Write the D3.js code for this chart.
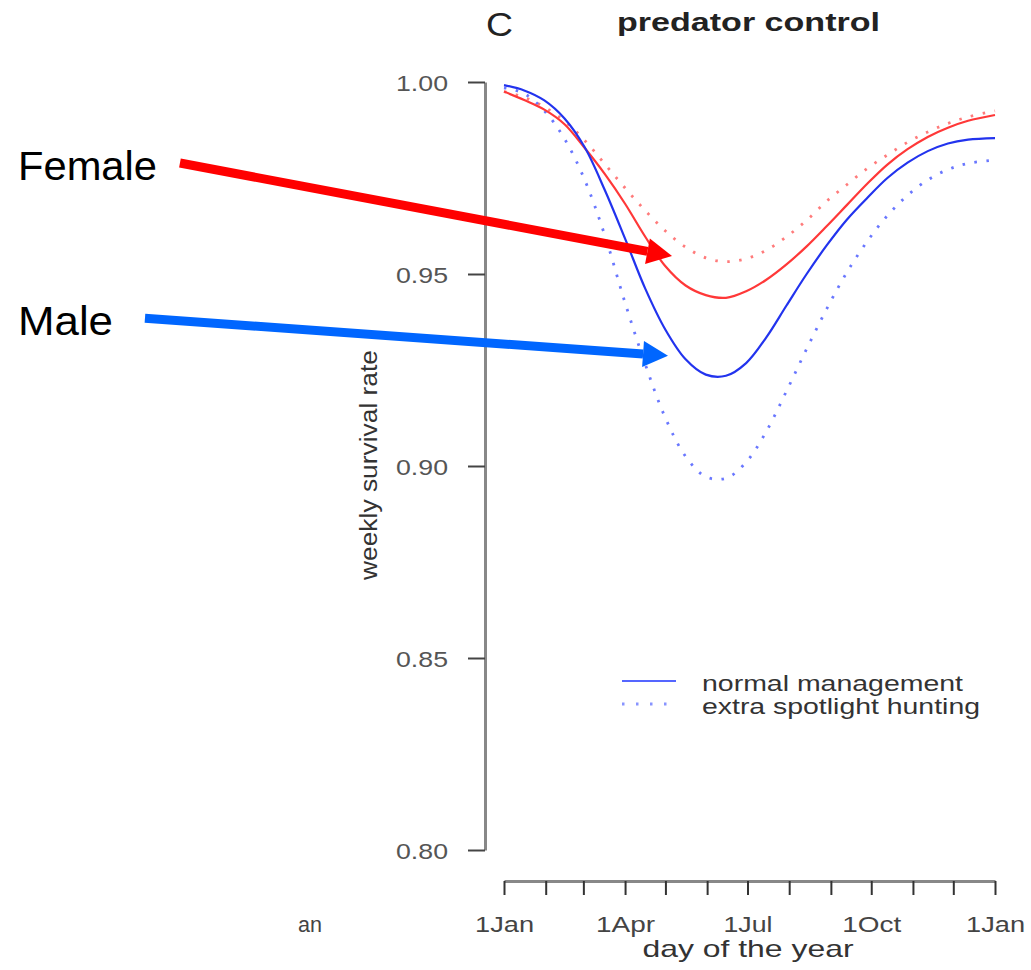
<!DOCTYPE html>
<html>
<head>
<meta charset="utf-8">
<script src="https://cdn.jsdelivr.net/npm/d3@7"></script>
<style>
  body { margin: 0; background: #fff; }
  text { font-family: "Liberation Sans", Arial, sans-serif; }
</style>
</head>
<body>
<svg id="chart"></svg>
<script>
// Data (day of year, 0 = 1 Jan)
const days = [0, 15, 30, 45, 60, 75, 90, 105, 120, 135, 150, 165, 180, 195, 210, 225, 240, 255, 270, 285, 300, 315, 330, 345, 365];

const maleNormal = [0.9992, 0.9978, 0.9952, 0.9905, 0.9830, 0.9718, 0.9592, 0.9462, 0.9355, 0.9278, 0.9238, 0.9235, 0.9268, 0.9335, 0.9418, 0.9500, 0.9575, 0.9642, 0.9698, 0.9750, 0.9790, 0.9820, 0.9840, 0.9850, 0.9854];
const femaleNormal = [0.9975, 0.9953, 0.9928, 0.9890, 0.9828, 0.9760, 0.9683, 0.9597, 0.9520, 0.9470, 0.9445, 0.9438, 0.9455, 0.9485, 0.9525, 0.9572, 0.9625, 0.9680, 0.9735, 0.9785, 0.9825, 0.9857, 0.9881, 0.9899, 0.9914];
const maleExtra = [0.9985, 0.9970, 0.9925, 0.9852, 0.9745, 0.9600, 0.9425, 0.9265, 0.9125, 0.9025, 0.8972, 0.8968, 0.9010, 0.9090, 0.9195, 0.9305, 0.9410, 0.9505, 0.9585, 0.9652, 0.9705, 0.9745, 0.9772, 0.9788, 0.9797];
const femaleExtra = [0.9975, 0.9960, 0.9935, 0.9898, 0.9848, 0.9786, 0.9724, 0.9665, 0.9612, 0.9570, 0.9542, 0.9532, 0.9540, 0.9562, 0.9597, 0.9640, 0.9690, 0.9733, 0.9775, 0.9810, 0.9843, 0.9870, 0.9892, 0.9909, 0.9925];

const monthStarts = [0, 31, 59, 90, 120, 151, 181, 212, 243, 273, 304, 334, 365];
const monthLabels = { 0: "1Jan", 90: "1Apr", 181: "1Jul", 273: "1Oct", 365: "1Jan" };
const yTicks = [0.80, 0.85, 0.90, 0.95, 1.00];

const legendLabels = ["normal management", "extra spotlight hunting"];

// arrows in data units: [day, survival]
const notes = [
  { label: "Female", color: "#ff0000", from: [-240.9, 0.9789], to: [124.9, 0.9547], textY: 0.9744 },
  { label: "Male",   color: "#0066ff", from: [-266.9, 0.9385], to: [121.9, 0.9287], textY: 0.9341 }
];

const width = 1031;
const height = 970;

const svg = d3.select('#chart')
  .attr('width', width)
  .attr('height', height);

// Scales
const x = d3.scaleLinear().domain([0, 365]).range([504, 995]);
const y = d3.scaleLinear().domain([0.8, 1.0]).range([850, 82]);

// Y axis
const yAxis = d3.axisLeft(y)
  .tickValues(yTicks)
  .tickFormat(d3.format('.2f'))
  .tickSize(17)
  .tickSizeOuter(0)
  .tickPadding(20);
const gy = svg.append('g')
  .attr('transform', 'translate(485,0)')
  .call(yAxis);
gy.select('.domain').attr('stroke', '#888').attr('stroke-width', 3);
gy.selectAll('.tick line').attr('stroke', '#444').attr('stroke-width', 2);
gy.selectAll('.tick text')
  .attr('font-size', 22)
  .attr('fill', '#555')
  .attr('dy', '0.4em')
  .attr('textLength', 52)
  .attr('lengthAdjust', 'spacingAndGlyphs');

// X axis
const xAxis = d3.axisBottom(x)
  .tickValues(monthStarts)
  .tickFormat(d => monthLabels[d] || '')
  .tickSize(14)
  .tickSizeOuter(0);
const gx = svg.append('g')
  .attr('transform', 'translate(0,881)')
  .call(xAxis);
gx.select('.domain').attr('stroke', '#888').attr('stroke-width', 3);
gx.selectAll('.tick line').attr('stroke', '#333').attr('stroke-width', 2);
gx.selectAll('.tick text')
  .attr('font-size', 22)
  .attr('fill', '#444')
  .attr('y', 35)
  .attr('textLength', d => monthLabels[d] ? (d === 181 ? 49 : 59) : null)
  .attr('lengthAdjust', 'spacingAndGlyphs');

// left-over label from neighbouring panel
svg.append('text')
  .attr('x', 298).attr('y', 932)
  .attr('font-size', 22).attr('fill', '#444')
  .attr('textLength', 24).attr('lengthAdjust', 'spacingAndGlyphs')
  .text('an');

// Axis titles
svg.append('text')
  .attr('x', 748).attr('y', 957)
  .attr('text-anchor', 'middle')
  .attr('font-size', 24).attr('fill', '#333')
  .attr('textLength', 211).attr('lengthAdjust', 'spacingAndGlyphs')
  .text('day of the year');

svg.append('text')
  .attr('transform', 'translate(377,465) rotate(-90)')
  .attr('text-anchor', 'middle')
  .attr('font-size', 23).attr('fill', '#333')
  .attr('textLength', 230).attr('lengthAdjust', 'spacingAndGlyphs')
  .text('weekly survival rate');

// Titles
svg.append('text')
  .attr('x', 486).attr('y', 36)
  .attr('font-size', 33).attr('fill', '#222')
  .attr('textLength', 27).attr('lengthAdjust', 'spacingAndGlyphs')
  .text('C');
svg.append('text')
  .attr('x', 617).attr('y', 31)
  .attr('font-size', 26).attr('font-weight', 'bold').attr('fill', '#222')
  .attr('textLength', 263).attr('lengthAdjust', 'spacingAndGlyphs')
  .text('predator control');

// Lines
const line = d3.line()
  .x((d, i) => x(days[i]))
  .y(d => y(d))
  .curve(d3.curveCatmullRom.alpha(0.5));

const series = [
  { values: femaleExtra, color: '#ff5a5a', dotted: true },
  { values: maleExtra, color: '#4455ff', dotted: true },
  { values: femaleNormal, color: '#ff3838', dotted: false },
  { values: maleNormal, color: '#2233ee', dotted: false }
];

svg.selectAll('.series')
  .data(series)
  .enter().append('path')
  .attr('class', 'series')
  .attr('d', d => line(d.values))
  .attr('fill', 'none')
  .attr('stroke', d => d.color)
  .attr('stroke-width', d => d.dotted ? 2.8 : 2.2)
  .attr('stroke-opacity', d => d.dotted ? 0.8 : 1)
  .attr('stroke-dasharray', d => d.dotted ? '2.5 9.5' : null);

// Legend
const legend = svg.append('g');
legendLabels.forEach((lab, i) => {
  const ly = 681 + i * 23;
  legend.append('line')
    .attr('x1', 622).attr('x2', 676)
    .attr('y1', ly).attr('y2', ly)
    .attr('stroke', '#5566ff')
    .attr('stroke-width', i === 0 ? 2.2 : 2.8)
    .attr('stroke-opacity', i === 0 ? 1 : 0.7)
    .attr('stroke-dasharray', i === 0 ? null : '2.5 11.5');
  legend.append('text')
    .attr('x', 702).attr('y', ly + 10)
    .attr('font-size', 22).attr('fill', '#333')
    .attr('textLength', i === 0 ? 261 : 278)
    .attr('lengthAdjust', 'spacingAndGlyphs')
    .text(lab);
});

// Annotation arrows
notes.forEach(n => {
  const x1 = x(n.from[0]), y1 = y(n.from[1]);
  const x2 = x(n.to[0]), y2 = y(n.to[1]);
  const ang = Math.atan2(y2 - y1, x2 - x1);
  const headLen = 25, headHalf = 13;
  const bx = x2 - headLen * Math.cos(ang), by = y2 - headLen * Math.sin(ang);
  svg.append('line')
    .attr('x1', x1).attr('y1', y1)
    .attr('x2', bx).attr('y2', by)
    .attr('stroke', n.color)
    .attr('stroke-width', 9);
  const px = -Math.sin(ang) * headHalf, py = Math.cos(ang) * headHalf;
  svg.append('polygon')
    .attr('points', [[x2, y2], [bx + px, by + py], [bx - px, by - py]].map(p => p.join(',')).join(' '))
    .attr('fill', n.color);
  svg.append('text')
    .attr('x', 18).attr('y', y(n.textY))
    .attr('font-family', 'Lato, "Open Sans", sans-serif')
    .attr('font-size', 41).attr('fill', '#000')
    .attr('textLength', n.label === 'Female' ? 139 : 95)
    .attr('lengthAdjust', 'spacingAndGlyphs')
    .text(n.label);
});
</script>
</body>
</html>
